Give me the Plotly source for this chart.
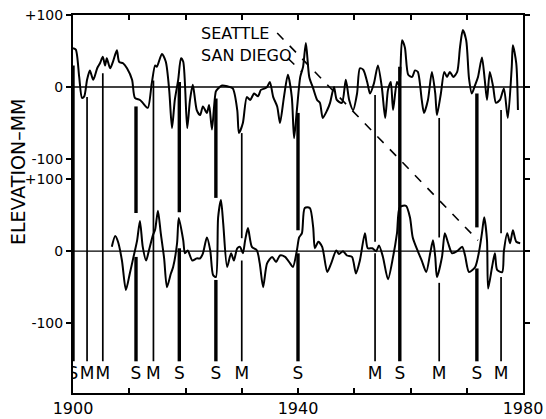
import plotly.graph_objects as go

# ---------------- data ----------------
# San Diego (upper trace), elevation anomaly, mm
sd_years = [1900.0, 1900.5, 1901.1, 1901.6, 1902.0, 1902.5, 1903.0, 1903.6, 1904.3, 1904.8,
            1905.3, 1905.7, 1906.0, 1906.6, 1907.1, 1907.8, 1908.2, 1908.9, 1909.6, 1910.5,
            1911.0, 1911.9, 1912.4, 1913.3, 1914.0, 1914.6, 1914.9, 1915.8, 1916.5, 1917.1,
            1917.6, 1918.1, 1918.7, 1919.2, 1919.6, 1920.3, 1920.8, 1921.3, 1922.0, 1922.6,
            1923.1, 1923.8, 1924.2, 1924.7, 1925.4, 1925.8, 1926.5, 1927.4, 1928.4, 1929.2,
            1929.5, 1930.2, 1930.9, 1931.5, 1932.2, 1932.9, 1933.4, 1934.1, 1934.5, 1935.0,
            1935.6, 1936.3, 1936.8, 1937.5, 1938.2, 1938.9, 1939.3, 1939.8, 1940.4, 1940.9,
            1941.4, 1942.0, 1942.7, 1943.4, 1943.9, 1944.4, 1945.2, 1945.7, 1946.4, 1946.9,
            1947.8, 1948.5, 1949.1, 1949.8, 1950.5, 1951.0, 1951.6, 1952.3, 1952.8, 1953.5,
            1954.2, 1954.9, 1955.5, 1956.0, 1956.5, 1956.9, 1957.6, 1958.0, 1958.5, 1959.0,
            1959.6, 1960.3, 1960.8, 1961.3, 1962.0, 1962.4, 1963.1, 1963.8, 1964.4, 1964.7,
            1965.4, 1966.0, 1966.5, 1967.0, 1967.6, 1968.3, 1968.8, 1969.3, 1969.9, 1970.4,
            1970.9, 1971.5, 1972.0, 1972.7, 1973.2, 1973.6, 1974.1, 1974.7, 1975.2, 1975.9,
            1976.6, 1977.3, 1978.0, 1978.2, 1978.8, 1979.1]
sd_vals = [54, 52, 14, -15, -13, 10, 23, 10, 26, 33,
           42, 30, 40, 26, 35, 51, 35, 33, 26, 10,
           -15, -18, -22, -29, 5, 30, 28, 46, 35, -4,
           -57, -18, 10, 40, 35, -57, -18, 3, -32, -39,
           -27, -36, -25, -59, -6, -2, 2, 1, -2, -32,
           -64, -50, -14, -18, -9, -13, -4, -2, 0, 7,
           -14, -27, -50, -14, 17, -14, -71, -32, 14, 28,
           61, 14, -2, -18, -22, -43, -32, -22, 0, -18,
           -22, 10, -18, -32, -9, 26, 24, 7, -9, 5,
           30, 0, -43, -4, 7, -32, 7, 2, 65, 55,
           17, 14, 23, 21, -18, -36, -18, 21, -9, -39,
           -9, 21, 14, 21, 14, 21, 55, 79, 65, 12,
           -9, 3, 14, 41, 10, -18, 21, 0, -22, -18,
           -2, -43, 28, 58, 33, -32]

# Seattle (lower trace), elevation anomaly, mm
se_years = [1906.9, 1907.5, 1908.0, 1908.7, 1909.4, 1910.1, 1910.7, 1911.4, 1911.9, 1912.4,
            1913.0, 1913.5, 1914.2, 1914.6, 1915.1, 1915.6, 1916.2, 1916.7, 1917.4, 1917.8,
            1918.5, 1918.8, 1919.6, 1919.9, 1920.4, 1921.2, 1922.0, 1922.6, 1923.1, 1923.8,
            1924.4, 1924.9, 1925.4, 1925.8, 1926.3, 1926.7, 1927.4, 1928.1, 1928.6, 1929.2,
            1929.7, 1930.2, 1930.6, 1931.1, 1931.8, 1932.7, 1933.2, 1933.8, 1934.5, 1935.4,
            1936.1, 1936.8, 1937.7, 1938.6, 1939.1, 1939.8, 1940.2, 1940.7, 1941.2, 1942.1,
            1942.7, 1943.0, 1943.6, 1944.3, 1945.2, 1945.9, 1946.8, 1947.3, 1948.0, 1948.7,
            1949.6, 1950.3, 1951.0, 1951.9, 1952.4, 1953.2, 1953.9, 1954.4, 1955.1, 1956.0,
            1956.9, 1957.6, 1958.1, 1959.2, 1959.9, 1960.4, 1961.3, 1962.0, 1962.8, 1963.5,
            1964.0, 1964.4, 1964.7, 1965.6, 1966.1, 1966.7, 1967.4, 1968.3, 1969.2, 1969.7,
            1970.4, 1971.5, 1972.2, 1972.7, 1973.1, 1973.6, 1973.8, 1974.5, 1975.0, 1975.4,
            1976.3, 1976.6, 1977.2, 1977.7, 1978.2, 1978.8, 1979.5]
se_vals = [6, 21, 13, -13, -54, -31, -10, 15, 42, 6,
           -13, 1, 22, 30, 56, 25, -10, -50, -31, -22,
           11, 46, 15, -3, 1, -13, -10, -10, -3, 19,
           1, -33, -36, 47, 71, 39, -22, -3, -13, 4,
           6, -3, 15, 32, 6, 1, -17, -50, -17, -8,
           -15, -6, -8, -17, -22, 1, 19, 25, 60, 60,
           33, 4, 13, 6, -29, -17, 1, -4, 0, -6,
           -8, -31, -13, 25, 4, 4, 0, 8, -8, -39,
           -8, 25, 61, 63, 47, 19, 0, -13, -29, -3,
           15, -8, -36, -8, 25, 11, -3, 0, 6, -6,
           -29, -22, 0, 25, 47, 15, -52, -22, -3, -26,
           -29, 0, 25, 11, 29, 13, 11]

# El Nino events: S = strong, M = moderate
event_years = [1900.0, 1902.5, 1905.3, 1911.2, 1914.3, 1918.9, 1925.4, 1930.0,
               1940.0, 1953.7, 1958.1, 1965.1, 1971.8, 1976.1]
event_labels = ["S", "M", "M", "S", "M", "S", "S", "M", "S", "M", "S", "M", "S", "M"]
event_tops = [258, 214, 247, 201, 237, 235, 212, 164, 192, 217, 256, 185, 219, 196]
event_gap_hi = [None, None, None, 53, None, 54, 74, 18, 29, 13, None, 19, 33, 25]
event_gap_lo = [None, None, None, -8, None, 4, -40, -13, -3, -3, None, -44, -24, -36]
bar_bottom = -153
label_level = -172

upper_offset = 228          # upper panel zero sits 228 mm above lower zero
y_tickvals = [328, 228, 128, 100, 0, -100]
y_ticktext = ["+100", "0", "-100", "+100", "0", "-100"]
x_tickvals = [1900, 1910, 1920, 1930, 1940, 1950, 1960, 1970, 1980]
x_ticktext = ["1900", "", "", "", "1940", "", "", "", "1980"]

seattle_leader_x = [1936.3, 1972.0]
seattle_leader_y = [303, 15]
sandiego_leader_x = [1938.2, 1940.7]
sandiego_leader_y = [268, 249]

FONT = "DejaVu Sans"
INK = "black"

fig = go.Figure()

# zero lines
fig.add_trace(go.Scatter(x=[1900, 1980, None, 1900, 1980],
                         y=[upper_offset, upper_offset, None, 0, 0],
                         mode="lines", line=dict(color=INK, width=1.3),
                         hoverinfo="skip", showlegend=False))

# event bars
for kind, width in (("S", 3.4), ("M", 1.7)):
    bx, by = [], []
    for yr, lab, top, ghi, glo in zip(event_years, event_labels, event_tops,
                                      event_gap_hi, event_gap_lo):
        if lab != kind:
            continue
        if ghi is None:
            bx += [yr, yr, None]
            by += [top, bar_bottom, None]
        else:
            bx += [yr, yr, None, yr, yr, None]
            by += [top, ghi, None, glo, bar_bottom, None]
    fig.add_trace(go.Scatter(x=bx, y=by, mode="lines",
                             line=dict(color=INK, width=width),
                             hoverinfo="skip", showlegend=False))

# curves
fig.add_trace(go.Scatter(x=sd_years, y=[v + upper_offset for v in sd_vals],
                         mode="lines",
                         line=dict(color=INK, width=2, shape="spline", smoothing=0.7),
                         name="San Diego", showlegend=False))
fig.add_trace(go.Scatter(x=se_years, y=se_vals, mode="lines",
                         line=dict(color=INK, width=2, shape="spline", smoothing=0.7),
                         name="Seattle", showlegend=False))

# leaders
fig.add_trace(go.Scatter(x=seattle_leader_x, y=seattle_leader_y, mode="lines",
                         line=dict(color=INK, width=1.6, dash="dash"),
                         hoverinfo="skip", showlegend=False))
fig.add_trace(go.Scatter(x=sandiego_leader_x, y=sandiego_leader_y, mode="lines",
                         line=dict(color=INK, width=1.6, dash="dash"),
                         hoverinfo="skip", showlegend=False))

# S / M labels
fig.add_trace(go.Scatter(x=event_years, y=[label_level] * len(event_years),
                         mode="text", text=event_labels,
                         textposition="middle center",
                         textfont=dict(family=FONT, size=17, color=INK),
                         hoverinfo="skip", showlegend=False))

fig.add_annotation(x=1922.4, y=303, text="SEATTLE", showarrow=False,
                   xanchor="left", yanchor="middle",
                   font=dict(family=FONT, size=16, color=INK))
fig.add_annotation(x=1922.4, y=272, text="SAN DIEGO", showarrow=False,
                   xanchor="left", yanchor="middle",
                   font=dict(family=FONT, size=16, color=INK))
fig.add_annotation(x=-0.122, xref="paper", y=110, yref="y",
                   text="ELEVATION\u2013MM", textangle=-90, showarrow=False,
                   xanchor="center", yanchor="middle",
                   font=dict(family=FONT, size=19, color=INK))

fig.update_layout(
    width=546, height=419,
    margin=dict(l=73, r=23, t=15, b=26, autoexpand=False),
    paper_bgcolor="white", plot_bgcolor="white",
    font=dict(family=FONT, color=INK),
    showlegend=False,
)
fig.update_xaxes(range=[1900, 1980], tickvals=x_tickvals, ticktext=x_ticktext,
                 ticks="inside", ticklen=5, tickwidth=1.5, tickcolor=INK,
                 showline=True, linewidth=2, linecolor=INK, mirror="ticks",
                 showgrid=False, zeroline=False, automargin=False,
                 tickfont=dict(family=FONT, size=16, color=INK))
fig.update_yaxes(range=[-197, 328], tickvals=y_tickvals, ticktext=y_ticktext,
                 ticks="outside", ticklen=5, tickwidth=1.5, tickcolor=INK,
                 showline=True, linewidth=2, linecolor=INK, mirror="ticks",
                 showgrid=False, zeroline=False, automargin=False,
                 tickfont=dict(family=FONT, size=14, color=INK))

fig.write_html("out.html")
